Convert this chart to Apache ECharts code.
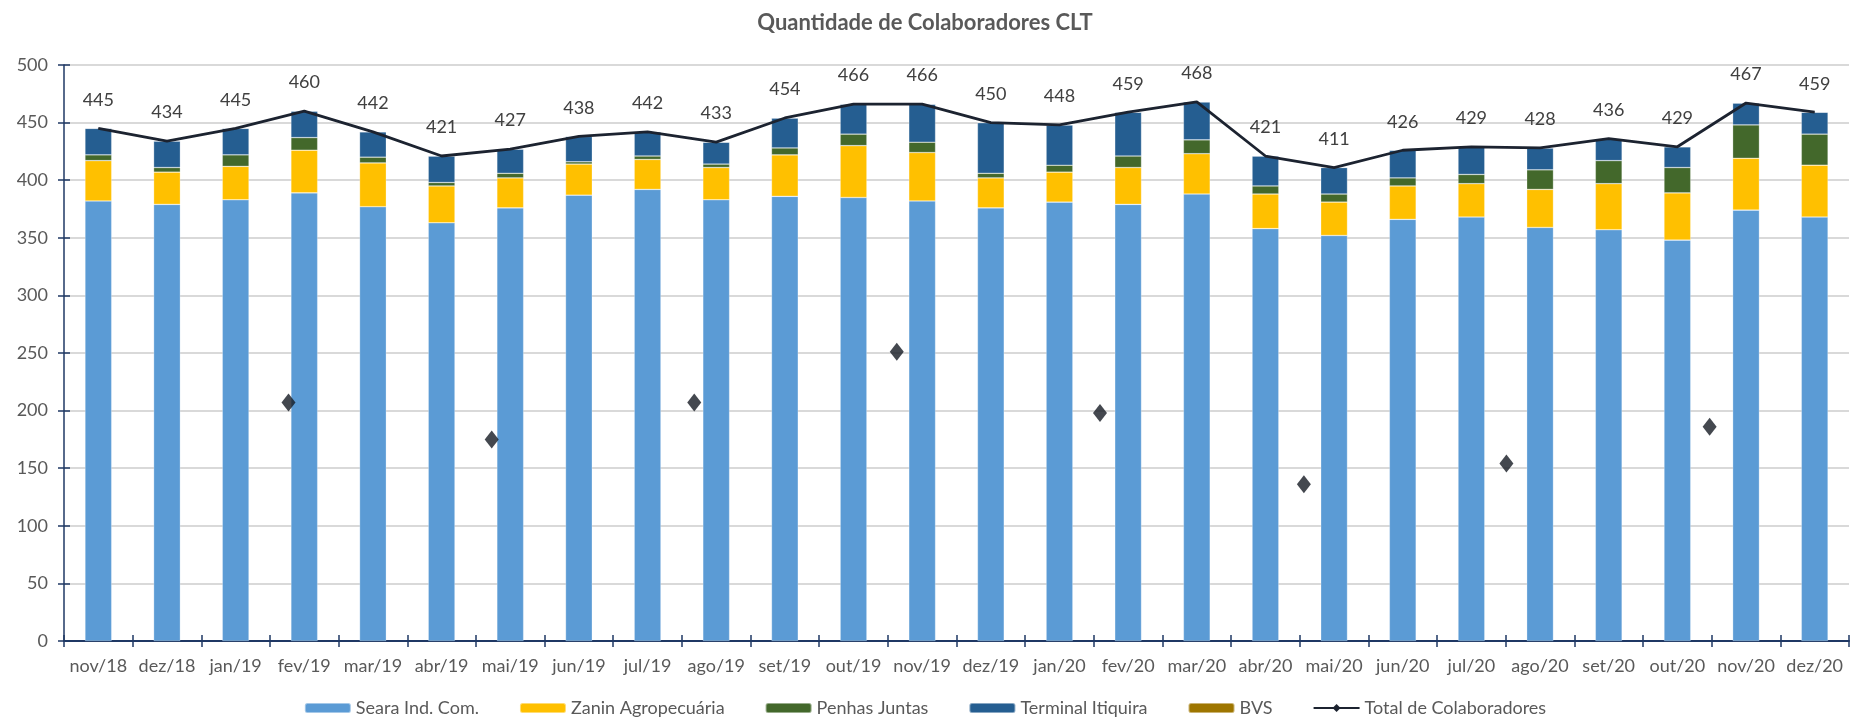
<!DOCTYPE html>
<html>
<head>
<meta charset="utf-8">
<title>Quantidade de Colaboradores CLT</title>
<script src="https://cdn.jsdelivr.net/npm/echarts@6/dist/echarts.min.js"></script>
<style>
	html, body {margin:0;padding:0;background:#FFFFFF;}
	#container {width:1850px;height:722px;}
</style>
</head>
<body>
<div id="container"></div>
<script>
// meses
var months = ['nov/18','dez/18','jan/19','fev/19','mar/19','abr/19','mai/19','jun/19','jul/19','ago/19','set/19','out/19','nov/19',
	'dez/19','jan/20','fev/20','mar/20','abr/20','mai/20','jun/20','jul/20','ago/20','set/20','out/20','nov/20','dez/20'];

var seara    = [382,379,383,389,377,363,376,387,392,383,386,385,382,376,381,379,388,358,352,366,368,359,357,348,374,368];
var zanin    = [ 35, 28, 29, 37, 38, 32, 26, 27, 26, 28, 36, 45, 42, 26, 26, 32, 35, 30, 29, 29, 29, 33, 40, 41, 45, 45];
var penhas   = [  5,  4, 10, 11,  5,  3,  4,  2,  3,  3,  6, 10,  9,  4,  6, 10, 12,  7,  7,  7,  8, 17, 20, 22, 29, 27];
var terminal = [ 23, 23, 23, 23, 22, 23, 21, 22, 21, 19, 26, 26, 33, 44, 35, 38, 33, 26, 23, 24, 24, 19, 19, 18, 19, 19];
var bvs      = [  0,  0,  0,  0,  0,  0,  0,  0,  0,  0,  0,  0,  0,  0,  0,  0,  0,  0,  0,  0,  0,  0,  0,  0,  0,  0];
var total    = [445,434,445,460,442,421,427,438,442,433,454,466,466,450,448,459,468,421,411,426,429,428,436,429,467,459];

// pontos soltos (losangos) fora do eixo de categorias
var diamondPos  = [3.27, 6.23, 9.18, 12.13, 15.09, 18.06, 21.01, 23.97];
var diamondVals = [207, 175, 207, 251, 198, 136, 154, 186];

var yTicks = [0,50,100,150,200,250,300,350,400,450,500];

var fontFamily = 'Lato, "Open Sans", sans-serif';
var axisColor = '#1F3864';

function diamondData() {
	var d = [];
	for (var i = 0; i < diamondPos.length; i++) {
		d.push([diamondPos[i], diamondVals[i]]);
	}
	return d;
}

function barSeries(name, data, color) {
	return {
		name: name,
		type: 'bar',
		stack: 'clt',
		barWidth: '39%',
		data: data,
		itemStyle: {color: color, borderColor: 'rgba(255,255,255,0.45)', borderWidth: 0.6}
	};
}

var myChart = echarts.init(document.getElementById('container'), null, {renderer: 'canvas'});

myChart.setOption({
	animation: false,
	backgroundColor: '#FFFFFF',
	textStyle: {fontFamily: fontFamily},
	title: {
		text: 'Quantidade de Colaboradores CLT',
		left: 'center',
		top: 7,
		textStyle: {fontFamily: fontFamily, fontSize: 22, fontWeight: 'bold', color: '#595959'}
	},
	legend: {
		top: 694,
		left: 'center',
		itemWidth: 46,
		itemHeight: 10,
		itemGap: 40,
		textStyle: {fontFamily: fontFamily, fontSize: 18, color: '#595959'},
		data: ['Seara Ind. Com.','Zanin Agropecuária','Penhas Juntas','Terminal Itiquira','BVS','Total de Colaboradores']
	},
	grid: {left: 64, right: 1, top: 65, bottom: 81, containLabel: false},
	xAxis: [
		{
			type: 'category',
			data: months,
			position: 'bottom',
			axisLine: {lineStyle: {color: axisColor, width: 2}},
			axisTick: {show: true, length: 6, lineStyle: {color: axisColor, width: 1.5}},
			axisLabel: {fontFamily: fontFamily, fontSize: 18, color: '#595959', margin: 16, interval: 0},
			splitLine: {show: false}
		},
		{
			type: 'category',
			data: months,
			position: 'bottom',
			axisLine: {show: false},
			axisTick: {show: true, inside: true, length: 6, lineStyle: {color: axisColor, width: 1.5}},
			axisLabel: {show: false},
			splitLine: {show: false}
		},
		{
			type: 'value',
			min: 0,
			max: months.length,
			position: 'bottom',
			show: false
		}
	],
	yAxis: [
		{
			type: 'value',
			min: yTicks[0],
			max: yTicks[yTicks.length - 1],
			interval: 50,
			axisLine: {show: true, lineStyle: {color: axisColor, width: 1.5}},
			axisTick: {show: true, length: 6, lineStyle: {color: axisColor, width: 1.5}},
			axisLabel: {fontFamily: fontFamily, fontSize: 18, color: '#595959', margin: 16},
			splitLine: {show: true, lineStyle: {color: '#D9D9D9', width: 2}}
		},
		{
			type: 'value',
			min: yTicks[0],
			max: yTicks[yTicks.length - 1],
			interval: 50,
			position: 'left',
			axisLine: {show: false},
			axisTick: {show: true, inside: true, length: 6, lineStyle: {color: axisColor, width: 1.5}},
			axisLabel: {show: false},
			splitLine: {show: false}
		}
	],
	series: [
		barSeries('Seara Ind. Com.', seara, '#5B9BD5'),
		barSeries('Zanin Agropecuária', zanin, '#FFC000'),
		barSeries('Penhas Juntas', penhas, '#43682B'),
		barSeries('Terminal Itiquira', terminal, '#255E91'),
		barSeries('BVS', bvs, '#9E7600'),
		{
			name: 'Total de Colaboradores',
			type: 'line',
			data: total,
			symbol: 'diamond',
			symbolSize: 1,
			showSymbol: true,
			lineStyle: {color: '#1C2330', width: 2.8},
			itemStyle: {color: '#1C2330'},
			label: {
				show: true,
				position: 'top',
				distance: 19,
				fontFamily: fontFamily,
				fontSize: 18,
				color: '#404040'
			},
			labelLayout: {hideOverlap: false},
			z: 5
		},
		{
			name: 'Total de Colaboradores',
			type: 'scatter',
			xAxisIndex: 2,
			data: diamondData(),
			symbol: 'diamond',
			symbolSize: [14, 18],
			itemStyle: {color: '#151A23'},
			z: 6
		}
	]
});
</script>
</body>
</html>
